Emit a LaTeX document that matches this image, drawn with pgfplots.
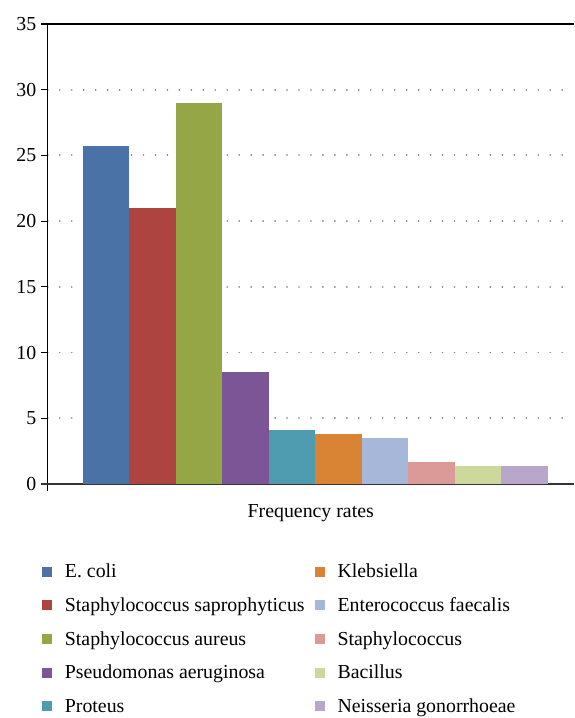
\documentclass[border=0pt]{standalone}
\usepackage{pgfplots}
\pgfplotsset{compat=1.18}
\usepackage{fontspec}
\setmainfont{Liberation Serif}
\definecolor{c1}{HTML}{4A72A6}
\definecolor{c2}{HTML}{AE4440}
\definecolor{c3}{HTML}{94A645}
\definecolor{c4}{HTML}{7B5595}
\definecolor{c5}{HTML}{4F9BB0}
\definecolor{c6}{HTML}{D98335}
\definecolor{c7}{HTML}{A6B7D9}
\definecolor{c8}{HTML}{DB9A97}
\definecolor{c9}{HTML}{CCD89C}
\definecolor{c10}{HTML}{B8A7CB}
\begin{document}
\begin{tikzpicture}
\begin{axis}[
  scale only axis,
  width=528bp, height=462bp,
  xmin=-0.25, xmax=11.06,
  ymin=0, ymax=35,
  clip=false,
  axis x line*=bottom,
  axis y line*=left,
  x axis line style={draw=black!80, line width=1.3bp, -},
  y axis line style={draw=black, line width=1.2bp, -},
  xtick=\empty,
  ytick={0,5,...,35},
  tick align=outside,
  major tick length=7bp,
  y tick style={black, line width=1bp},
  ymajorgrids,
  grid style={black!50, line width=1.8bp, dash pattern=on 0.01bp off 12bp, line cap=round},
  /pgf/number format/assume math mode=true,
  tick label style={font=\fontsize{20}{24}\selectfont},
  yticklabel style={xshift=-1bp},
  xlabel={Frequency rates},
  xlabel style={font=\fontsize{20}{24}\selectfont, at={(rel axis cs:0.5,0)}, anchor=north, yshift=-17bp},
  legend style={at={(rel axis cs:0,0)}, anchor=north west, xshift=-9bp, yshift=-76bp,
    draw=none, fill=none, font=\fontsize{20}{24}\selectfont, row sep=14.5bp,
    /tikz/column 2/.style={column sep=8bp}},
  legend columns=5,
  transpose legend,
  legend cell align=left,
  legend image code/.code={\fill[#1] (0bp,-5bp) rectangle (10bp,5bp); \path (21bp,0bp);},
]
\addplot[ybar, bar width=1, bar shift=0pt, fill=c1, draw=none] coordinates {(1,25.7)};
\addlegendentry{E. coli}
\addplot[ybar, bar width=1, bar shift=0pt, fill=c2, draw=none] coordinates {(2,21.0)};
\addlegendentry{Staphylococcus saprophyticus}
\addplot[ybar, bar width=1, bar shift=0pt, fill=c3, draw=none] coordinates {(3,29.0)};
\addlegendentry{Staphylococcus aureus}
\addplot[ybar, bar width=1, bar shift=0pt, fill=c4, draw=none] coordinates {(4,8.5)};
\addlegendentry{Pseudomonas aeruginosa}
\addplot[ybar, bar width=1, bar shift=0pt, fill=c5, draw=none] coordinates {(5,4.1)};
\addlegendentry{Proteus}
\addplot[ybar, bar width=1, bar shift=0pt, fill=c6, draw=none] coordinates {(6,3.8)};
\addlegendentry{Klebsiella}
\addplot[ybar, bar width=1, bar shift=0pt, fill=c7, draw=none] coordinates {(7,3.5)};
\addlegendentry{Enterococcus faecalis}
\addplot[ybar, bar width=1, bar shift=0pt, fill=c8, draw=none] coordinates {(8,1.7)};
\addlegendentry{Staphylococcus}
\addplot[ybar, bar width=1, bar shift=0pt, fill=c9, draw=none] coordinates {(9,1.4)};
\addlegendentry{Bacillus}
\addplot[ybar, bar width=1, bar shift=0pt, fill=c10, draw=none] coordinates {(10,1.4)};
\addlegendentry{Neisseria gonorrhoeae}
\draw[black, line width=1.2bp] ([xshift=-7bp]rel axis cs:0,1) -- (rel axis cs:1,1);
\draw[black, line width=1.2bp] ([yshift=-7bp]rel axis cs:0,0) -- (rel axis cs:0,0);
\draw[black!80, line width=1.3bp] ([xshift=-7bp]rel axis cs:0,0) -- (rel axis cs:0,0);
\path ([xshift=-48bp,yshift=24bp]rel axis cs:0,1);
\end{axis}
\end{tikzpicture}
\end{document}
